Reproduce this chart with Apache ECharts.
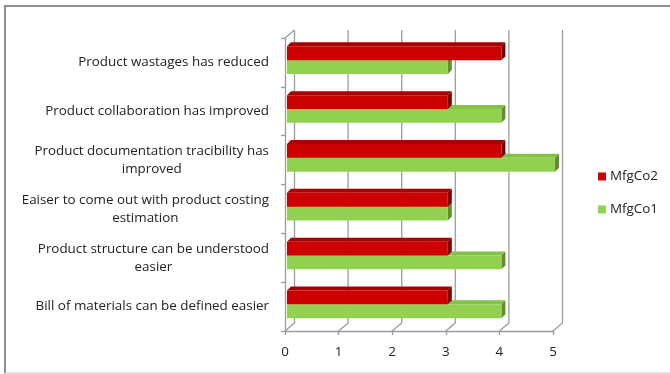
<!DOCTYPE html>
<html>
<head>
<meta charset="utf-8">
<script src="https://cdn.jsdelivr.net/npm/echarts@6/dist/echarts.min.js"></script>
<style>
  html, body { margin: 0; padding: 0; background: #ffffff; }
  #wrap { position: relative; width: 670px; height: 374px; overflow: hidden; }
  #chart { position: absolute; left: 0; top: 0; width: 670px; height: 374px; }
  #frame { position: absolute; left: 4px; top: 5px; width: 720px; height: 365px;
           border: 2px solid #8e8e8e; border-bottom-color: #e2e2e2; pointer-events: none; }
</style>
</head>
<body>
<div id="wrap">
  <div id="chart"></div>
  <div id="frame"></div>
</div>
<script>
// Survey statements, listed top to bottom
const categories = [
  'Product wastages has reduced',
  'Product collaboration has improved',
  'Product documentation tracibility has\nimproved',
  'Eaiser to come out with product costing\nestimation',
  'Product structure can be understood\neasier',
  'Bill of materials can be defined easier'
];
const mfgCo2 = [4, 3, 4, 3, 3, 3];
const mfgCo1 = [3, 4, 5, 3, 4, 4];
const xTicks = [0, 1, 2, 3, 4, 5];

const FONT = '"Open Sans", "Noto Sans", sans-serif';
const FS = 13.4;
const TEXT = '#222222';
const WALL = '#9c9c9c';
const LABEL_GAP = 16;

// depth of the chart box (oblique projection)
const DX = 9.5, DY = -8;
// offset and thickness of the bars inside the box
const BDX = 2, BDY = -2, TDX = 4, TDY = -4;

// width of each category label block, so its lines can be centred in it
const measureCtx = document.createElement('canvas').getContext('2d');
measureCtx.font = FS + 'px ' + FONT;
const labelWidths = categories.map(function (c) {
  return Math.max.apply(null, c.split('\n').map(function (l) { return measureCtx.measureText(l).width; }));
});

function barRenderer(front, top, side, upper) {
  return function (params, api) {
    const idx = api.value(1);
    const val = api.value(0);
    const p0 = api.coord([0, idx]);
    const p1 = api.coord([val, idx]);
    const band = api.size([0, 1])[1];
    const h = band * 0.283;
    const mid = p0[1] + BDY - band * 0.005;
    const y0 = upper ? mid - h : mid;
    const y1 = upper ? mid : mid + h;
    const x0 = p0[0] + BDX;
    const x1 = p1[0] + BDX;
    return {
      type: 'group',
      children: [
        { type: 'polygon', shape: { points: [[x0, y0], [x1, y0], [x1 + TDX, y0 + TDY], [x0 + TDX, y0 + TDY]] },
          style: { fill: top } },
        { type: 'polygon', shape: { points: [[x1, y0], [x1 + TDX, y0 + TDY], [x1 + TDX, y1 + TDY], [x1, y1]] },
          style: { fill: side } },
        { type: 'rect', shape: { x: x0, y: y0, width: x1 - x0, height: y1 - y0 },
          style: { fill: front } }
      ]
    };
  };
}

function wallRenderer(params, api) {
  const cs = params.coordSys;
  const v = api.value(0);
  const x = api.coord([v, 0])[0];
  const top = cs.y, bottom = cs.y + cs.height;
  const st = { stroke: WALL, lineWidth: 1.3 };
  const children = [
    { type: 'line', shape: { x1: x + DX, y1: top + DY, x2: x + DX, y2: bottom + DY }, style: st },
    { type: 'line', shape: { x1: x, y1: bottom, x2: x + DX, y2: bottom + DY }, style: st }
  ];
  if (v === 0) {
    children.push({ type: 'line', shape: { x1: x, y1: top, x2: x + DX, y2: top + DY }, style: st });
  }
  return { type: 'group', children: children };
}

// category labels: right edge at the axis, each line centred within the block
function labelRenderer(params, api) {
  const idx = api.value(1);
  const p = api.coord([0, idx]);
  const w = labelWidths[idx];
  return {
    type: 'text',
    style: {
      text: categories[idx],
      x: p[0] - LABEL_GAP - w / 2,
      y: p[1],
      align: 'center',
      verticalAlign: 'middle',
      font: FS + 'px ' + FONT,
      fill: TEXT,
      lineHeight: 18
    }
  };
}

const chart = echarts.init(document.getElementById('chart'), null, { renderer: 'canvas' });
chart.setOption({
  animation: false,
  backgroundColor: 'transparent',
  grid: { left: 285, right: 117, top: 38, bottom: 43 },
  legend: {
    data: ['MfgCo2', 'MfgCo1'],
    orient: 'vertical',
    left: 593,
    top: 165,
    itemWidth: 8,
    itemHeight: 8,
    itemGap: 20,
    icon: 'rect',
    textStyle: { fontFamily: FONT, fontSize: FS, color: TEXT, padding: [0, 0, 0, -1] }
  },
  xAxis: {
    type: 'value',
    min: 0,
    max: 5,
    interval: 1,
    axisLine: { show: true, lineStyle: { color: WALL, width: 1.3 } },
    axisTick: { show: true, length: 4, lineStyle: { color: WALL, width: 1.3 } },
    splitLine: { show: false },
    axisLabel: { fontFamily: FONT, fontSize: FS, color: TEXT, margin: 15,
                 formatter: function (v) { return xTicks.indexOf(v) >= 0 ? String(v) : ''; } }
  },
  yAxis: {
    type: 'category',
    data: categories,
    inverse: true,
    axisLine: { show: true, lineStyle: { color: WALL, width: 1.3 } },
    axisTick: { show: true, length: 4, lineStyle: { color: WALL, width: 1.3 } },
    axisLabel: { show: false }
  },
  series: [
    {
      name: 'wall',
      type: 'custom',
      silent: true,
      z: 1,
      renderItem: wallRenderer,
      encode: { x: 0, y: 1 },
      data: xTicks.map(function (v) { return [v, 0]; })
    },
    {
      name: 'labels',
      type: 'custom',
      silent: true,
      z: 1,
      clip: false,
      renderItem: labelRenderer,
      encode: { x: 0, y: 1 },
      data: categories.map(function (c, i) { return [0, i]; })
    },
    {
      name: 'MfgCo1',
      type: 'custom',
      z: 2,
      itemStyle: { color: '#92d050' },
      renderItem: barRenderer('#92d050', '#84c244', '#5f8f2e', false),
      encode: { x: 0, y: 1 },
      data: mfgCo1.map(function (v, i) { return [v, i]; })
    },
    {
      name: 'MfgCo2',
      type: 'custom',
      z: 3,
      itemStyle: { color: '#cc0000' },
      renderItem: barRenderer('#cc0000', '#a80000', '#7d0000', true),
      encode: { x: 0, y: 1 },
      data: mfgCo2.map(function (v, i) { return [v, i]; })
    }
  ]
});
</script>
</body>
</html>
